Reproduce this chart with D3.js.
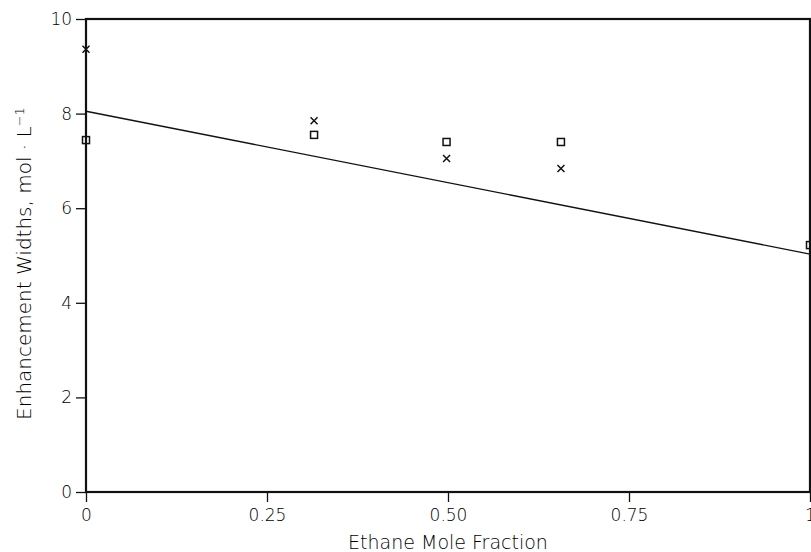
<!DOCTYPE html>
<html>
<head>
<meta charset="utf-8">
<script src="https://cdn.jsdelivr.net/npm/d3@7"></script>
<style>
  body { margin: 0; background: #fff; }
  text { font-family: "DejaVu Sans", sans-serif; font-weight: 200; fill: #000; }
</style>
</head>
<body>
<svg id="chart"></svg>
<script>
// data
const squareX = [0, 0.315, 0.498, 0.656, 1.0];
const squareY = [7.44, 7.55, 7.40, 7.40, 5.22];
const crossX = [0, 0.315, 0.498, 0.656];
const crossY = [9.36, 7.85, 7.05, 6.84];
const fitX = [0, 1];
const fitY = [8.05, 5.03];
const xTicks = [0, 0.25, 0.5, 0.75, 1];
const xTickLabels = ["0", "0.25", "0.50", "0.75", "1"];
const yTicks = [0, 2, 4, 6, 8, 10];

const width = 811, height = 552;
const margin = { top: 19, right: 1, bottom: 60, left: 86 };

const svg = d3.select("#chart")
  .attr("width", width)
  .attr("height", height);

const x = d3.scaleLinear().domain([0, 1]).range([margin.left, width - margin.right]);
const y = d3.scaleLinear().domain([0, 10]).range([height - margin.bottom, margin.top]);

// axes
const xAxis = svg.append("g")
  .attr("transform", `translate(0,${y(0)})`)
  .call(d3.axisBottom(x).tickValues(xTicks).tickFormat((d, i) => xTickLabels[i]).tickSize(10).tickSizeOuter(0));

const yAxis = svg.append("g")
  .attr("transform", `translate(${x(0)},0)`)
  .call(d3.axisLeft(y).tickValues(yTicks).tickSize(10).tickSizeOuter(0));

[xAxis, yAxis].forEach(g => {
  g.select(".domain").remove();
  g.selectAll(".tick line").attr("stroke", "#111").attr("stroke-width", 1.3);
  g.selectAll(".tick text").style("font-size", "17px");
});
xAxis.selectAll(".tick text").attr("dy", "0.95em");
yAxis.selectAll(".tick text").attr("dx", "-0.05em");

// frame
svg.append("rect")
  .attr("x", x(0)).attr("y", y(10))
  .attr("width", x(1) - x(0)).attr("height", y(0) - y(10))
  .attr("fill", "none").attr("stroke", "#111").attr("stroke-width", 2.2);

// fit line
svg.append("path")
  .datum(fitX.map((d, i) => [d, fitY[i]]))
  .attr("fill", "none").attr("stroke", "#111").attr("stroke-width", 1.4)
  .attr("d", d3.line().x(d => x(d[0])).y(d => y(d[1])));

// squares
svg.selectAll(".sq")
  .data(squareX.map((d, i) => [d, squareY[i]]))
  .enter().append("rect")
  .attr("class", "sq")
  .attr("x", d => x(d[0]) - 3.5).attr("y", d => y(d[1]) - 3.5)
  .attr("width", 7).attr("height", 7)
  .attr("fill", "none").attr("stroke", "#111").attr("stroke-width", 1.5);

// crosses
const s = 3.5;
svg.selectAll(".cr")
  .data(crossX.map((d, i) => [d, crossY[i]]))
  .enter().append("path")
  .attr("class", "cr")
  .attr("d", d => {
    const cx = x(d[0]), cy = y(d[1]);
    return `M${cx - s},${cy - s}L${cx + s},${cy + s}M${cx - s},${cy + s}L${cx + s},${cy - s}`;
  })
  .attr("stroke", "#111").attr("stroke-width", 1.5);

// axis titles
svg.append("text")
  .attr("x", (x(0) + x(1)) / 2).attr("y", 549)
  .attr("text-anchor", "middle")
  .style("font-size", "19px")
  .text("Ethane Mole Fraction");

const yTitle = svg.append("text")
  .attr("transform", `translate(31,${(y(0) + y(10)) / 2 + 8}) rotate(-90)`)
  .attr("text-anchor", "middle")
  .style("font-size", "20px");
yTitle.append("tspan").text("Enhancement Widths, mol \u00B7 L");
yTitle.append("tspan").attr("dy", "-0.55em").style("font-size", "13px").text("\u22121");
</script>
</body>
</html>
